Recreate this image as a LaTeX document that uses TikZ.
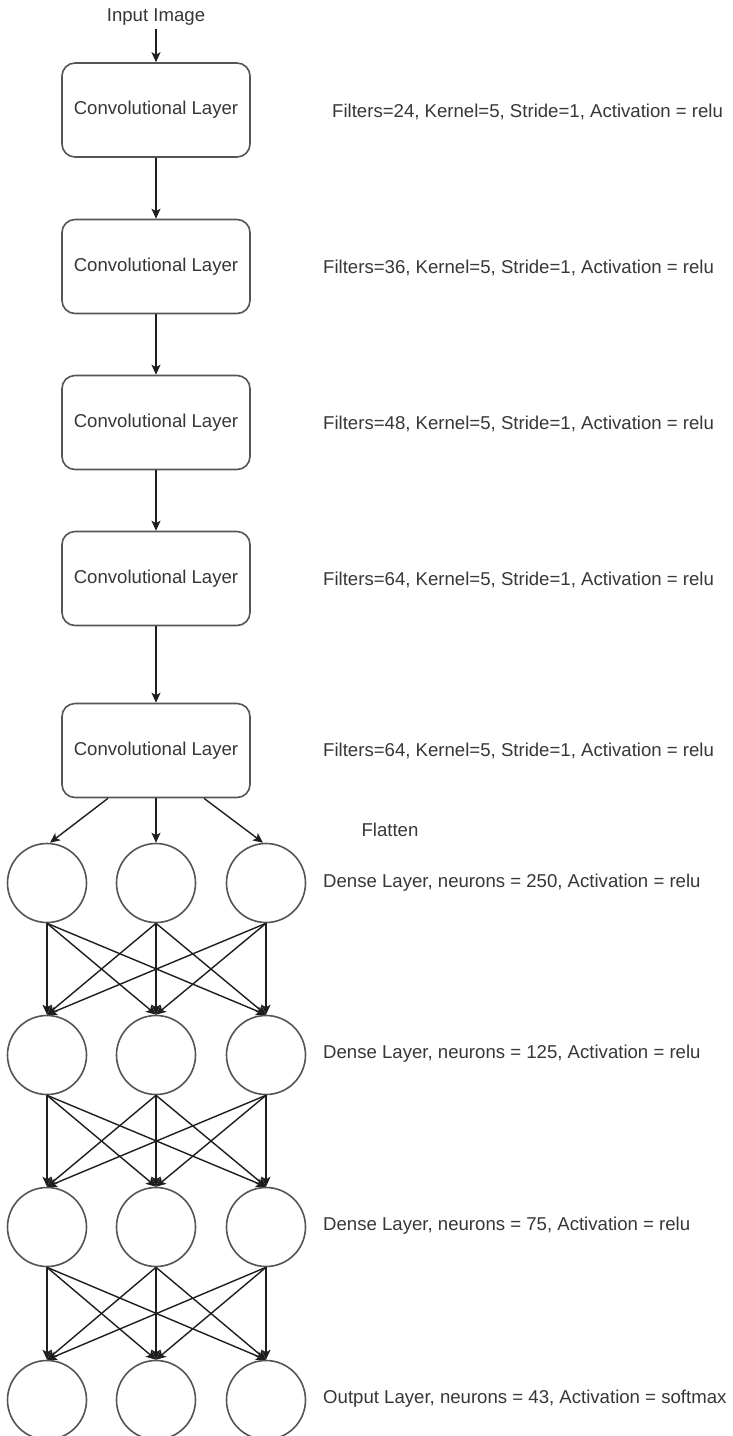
\documentclass[tikz,border=0pt]{standalone}
\usepackage{fontspec}
\setmainfont{Liberation Sans}
\usetikzlibrary{arrows.meta}
\definecolor{txt}{RGB}{55,55,55}
\definecolor{edge}{RGB}{85,85,85}
\definecolor{arr}{RGB}{30,30,30}
\begin{document}
\begin{tikzpicture}[x=1pt,y=-1pt,
  lbl/.style={font=\fontsize{18.6}{22}\selectfont, text=txt, inner sep=0pt},
  convbox/.style={draw=edge, line width=1.6pt, rounded corners=13pt, minimum width=188pt, minimum height=94pt, inner sep=0pt, font=\fontsize{18.6}{22}\selectfont, text=txt},
  neuron/.style={draw=edge, line width=1.6pt, circle, minimum size=79pt, inner sep=0pt},
  link/.style={draw=arr, line width=1.4pt, -{Stealth[length=10pt,width=9pt,inset=2.5pt]}}
]
\useasboundingbox (0,0) rectangle (733,1436);
\fill[white] (0,0) rectangle (733,1436);

\node[lbl, inner sep=3pt] (in) at (156,17) {Input Image};

\node[convbox] (c1) at (156,110) {Convolutional Layer};
\node[convbox] (c2) at (156,266.5) {Convolutional Layer};
\node[convbox] (c3) at (156,422.5) {Convolutional Layer};
\node[convbox] (c4) at (156,578.5) {Convolutional Layer};
\node[convbox] (c5) at (156,750.5) {Convolutional Layer};

\node[lbl, anchor=west] (t1) at (332,112) {Filters=24, Kernel=5, Stride=1, Activation = relu};
\node[lbl, anchor=west] (t2) at (323,268) {Filters=36, Kernel=5, Stride=1, Activation = relu};
\node[lbl, anchor=west] (t3) at (323,424) {Filters=48, Kernel=5, Stride=1, Activation = relu};
\node[lbl, anchor=west] (t4) at (323,580) {Filters=64, Kernel=5, Stride=1, Activation = relu};
\node[lbl, anchor=west] (t5) at (323,751) {Filters=64, Kernel=5, Stride=1, Activation = relu};

\node[lbl] (fl) at (390,830) {Flatten};

\foreach \r/\y in {1/883,2/1055,3/1227,4/1400}{
  \node[neuron] (n\r a) at (47,\y) {};
  \node[neuron] (n\r b) at (156,\y) {};
  \node[neuron] (n\r c) at (266,\y) {};
}

\node[lbl, anchor=west] (d1) at (323,883) {Dense Layer, neurons = 250, Activation = relu};
\node[lbl, anchor=west] (d2) at (323,1054) {Dense Layer, neurons = 125, Activation = relu};
\node[lbl, anchor=west] (d3) at (323,1226) {Dense Layer, neurons = 75, Activation = relu};
\node[lbl, anchor=west] (d4) at (323,1399) {Output Layer, neurons = 43, Activation = softmax};

\draw[link] (in.south) -- (c1.north);
\draw[link] (c1.south) -- (c2.north);
\draw[link] (c2.south) -- (c3.north);
\draw[link] (c3.south) -- (c4.north);
\draw[link] (c4.south) -- (c5.north);

\draw[link] ([xshift=-48pt]c5.south) -- ([xshift=3pt]n1a.north);
\draw[link] (c5.south) -- (n1b.north);
\draw[link] ([xshift=48pt]c5.south) -- ([xshift=-3pt]n1c.north);

\foreach \r/\s in {1/2,2/3,3/4}{
  \foreach \p in {a,b,c}{
    \foreach \q in {a,b,c}{
      \draw[link] (n\r\p.south) -- (n\s\q.north);
    }
  }
}
\end{tikzpicture}
\end{document}
